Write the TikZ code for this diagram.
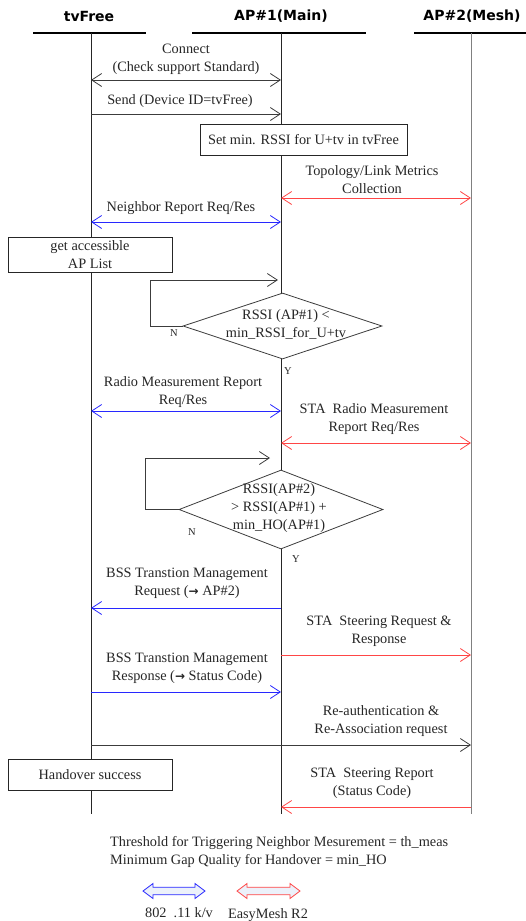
\documentclass[tikz,border=0pt]{standalone}
\usepackage{fontspec}
\setmainfont{Liberation Serif}
\newfontfamily\headfont{DejaVu Sans}
\usetikzlibrary{arrows.meta,shapes.geometric}
\definecolor{msgblue}{RGB}{40,40,255}
\definecolor{msgred}{RGB}{255,70,70}
\definecolor{msgdark}{RGB}{60,60,60}
\definecolor{legfill}{RGB}{236,241,250}
\newcommand{\rarr}{{\headfont\bfseries\fontsize{12}{14}\selectfont →}}
\begin{document}
\begin{tikzpicture}[x=1pt,y=-1pt,
  font=\fontsize{14.3}{18}\selectfont,
  hdr/.style={font=\headfont\bfseries\fontsize{14}{16}\selectfont, inner sep=0pt},
  hdrline/.style={line width=1.6pt, black},
  life/.style={line width=0.9pt, black!85},
  life2/.style={line width=0.9pt, black!50},
  lbl/.style={align=center, inner sep=0pt, text=black!85},
  small/.style={font=\fontsize{10.5}{12}\selectfont, inner sep=0pt, text=black!85},
  actbox/.style={draw=black!85, fill=white, line width=0.8pt, align=center, inner sep=0pt, text=black!85},
  cond/.style={diamond, draw=msgdark, fill=white, line width=0.8pt, inner sep=0pt},
  tip/.tip={Straight Barb[length=10pt,width=13pt]},
  msg/.style={line width=0.8pt, -tip},
  bimsg/.style={line width=0.8pt, tip-tip},
  loopline/.style={line width=0.8pt, msgdark, -tip},
  legarrow/.style={fill=legfill, line width=0.8pt, line join=miter}
]
\useasboundingbox (0,0) rectangle (526,921);

% participants
\node[hdr] (tvH) at (89,16) {tvFree};
\node[hdr] (apH) at (281,16) {AP\#1(Main)};
\node[hdr] (meH) at (472,16) {AP\#2(Mesh)};
\coordinate (tvL) at (33,33);  \coordinate (tvR) at (146,33);
\coordinate (apL) at (192,33); \coordinate (apR) at (366,33);
\coordinate (meL) at (414,33); \coordinate (meR) at (526,33);
\draw[hdrline] (tvL) -- (tvR);
\draw[hdrline] (apL) -- (apR);
\draw[hdrline] (meL) -- (meR);

% lifelines
\coordinate (tvTop) at (91,33);  \coordinate (tvBot) at (91,814);
\coordinate (apTop) at (281,33); \coordinate (apBot) at (281,814);
\coordinate (meTop) at (471,33); \coordinate (meBot) at (471,814);
\draw[life] (tvTop) -- (tvBot);
\draw[life] (apTop) -- (apBot);
\draw[life2] (meTop) -- (meBot);

% connect
\node[lbl] (l1) at (186,59) {Connect\\(Check support Standard)};
\coordinate (m1a) at (91,80); \coordinate (m1b) at (281,80);
\draw[bimsg, msgdark] (m1a) -- (m1b);

% send device id
\node[lbl] (l2) at (180,101) {Send (Device ID=tvFree)};
\coordinate (m2a) at (91,114); \coordinate (m2b) at (281,114);
\draw[msg, msgdark] (m2a) -- (m2b);

% threshold setting
\node[actbox, minimum width=207pt, minimum height=31pt] (b1) at (303.5,139.5) {Set min. RSSI for U+tv in tvFree};

% topology collection
\node[lbl] (l3) at (372,180) {Topology/Link Metrics\\Collection};
\coordinate (m3a) at (281,198); \coordinate (m3b) at (471,198);
\draw[bimsg, msgred] (m3a) -- (m3b);

% neighbor report
\node[lbl] (l4) at (181,208) {Neighbor Report Req/Res};
\coordinate (m4a) at (91,222); \coordinate (m4b) at (281,222);
\draw[bimsg, msgblue] (m4a) -- (m4b);

\node[actbox, minimum width=164pt, minimum height=35pt] (b2) at (90,254.5) {get accessible\\AP List};

% first decision
\node[cond, minimum width=199pt, minimum height=66pt] (d1) at (282.5,326) {};
\node[lbl] (d1t) at (286,324.5) {RSSI (AP\#1) <\\min\_RSSI\_for\_U+tv};
\node[small] (d1n) at (174,333) {N};
\node[small] (d1y) at (288,371) {Y};
\coordinate (r1) at (278,280);
\draw[loopline] (d1.west) -- (150,326) |- (r1);

% radio measurement
\node[lbl] (l5) at (183,392) {Radio Measurement Report\\Req/Res};
\coordinate (m5a) at (91,411); \coordinate (m5b) at (281,411);
\draw[bimsg, msgblue] (m5a) -- (m5b);

\node[lbl] (l6) at (374,419.5) {STA\ \ Radio Measurement\\Report Req/Res};
\coordinate (m6a) at (281,443); \coordinate (m6b) at (471,443);
\draw[bimsg, msgred] (m6a) -- (m6b);

% second decision
\node[cond, minimum width=204pt, minimum height=79pt] (d2) at (281,509.5) {};
\node[lbl] (d2t) at (279,508.5) {RSSI(AP\#2)\\> RSSI(AP\#1) +\\min\_HO(AP\#1)};
\node[small] (d2n) at (192,532) {N};
\node[small] (d2y) at (296,559) {Y};
\coordinate (r2) at (270,458);
\draw[loopline] (d2.west) -- (145,509.5) |- (r2);

% BSS transition request
\node[lbl] (l7) at (187,583.5) {BSS Transtion Management\\Request (\rarr\ AP\#2)};
\coordinate (m7a) at (281,608); \coordinate (m7b) at (91,608);
\draw[msg, msgblue] (m7a) -- (m7b);

\node[lbl] (l8) at (379,631) {STA\ \ Steering Request \&\\Response};
\coordinate (m8a) at (281,655); \coordinate (m8b) at (471,655);
\draw[msg, msgred] (m8a) -- (m8b);

\node[lbl] (l9) at (187,668.5) {BSS Transtion Management\\Response (\rarr\ Status Code)};
\coordinate (m9a) at (91,692); \coordinate (m9b) at (281,692);
\draw[msg, msgblue] (m9a) -- (m9b);

\node[lbl] (l10) at (381,721) {Re-authentication \&\\Re-Association request};
\coordinate (m10a) at (91,745); \coordinate (m10b) at (471,745);
\draw[msg, msgdark] (m10a) -- (m10b);

\node[actbox, minimum width=164pt, minimum height=31pt] (b3) at (90,774.5) {Handover success};

\node[lbl] (l11) at (372,783.5) {STA\ \ Steering Report\\(Status Code)};
\coordinate (m11a) at (471,807); \coordinate (m11b) at (281,807);
\draw[msg, msgred] (m11a) -- (m11b);

% legend text
\node[lbl, anchor=west, align=left] (leg) at (110,852) {Threshold for Triggering Neighbor Mesurement = th\_meas\\Minimum Gap Quality for Handover = min\_HO};

% legend block arrows (tip length 10, half height 7.5, half body 3.8)
\draw[legarrow, draw=msgblue]
  (143,891) -- (153,883.5) -- (153,887.2) -- (195,887.2) -- (195,883.5) -- (205,891)
  -- (195,898.5) -- (195,894.8) -- (153,894.8) -- (153,898.5) -- cycle;
\draw[legarrow, draw=msgred]
  (237,891) -- (247,883.5) -- (247,887.2) -- (290,887.2) -- (290,883.5) -- (300,891)
  -- (290,898.5) -- (290,894.8) -- (247,894.8) -- (247,898.5) -- cycle;
\node[lbl] (lgbt) at (179,913) {802\ \ .11 k/v};
\node[lbl] (lgrt) at (268,915) {EasyMesh R2};
\end{tikzpicture}
\end{document}
